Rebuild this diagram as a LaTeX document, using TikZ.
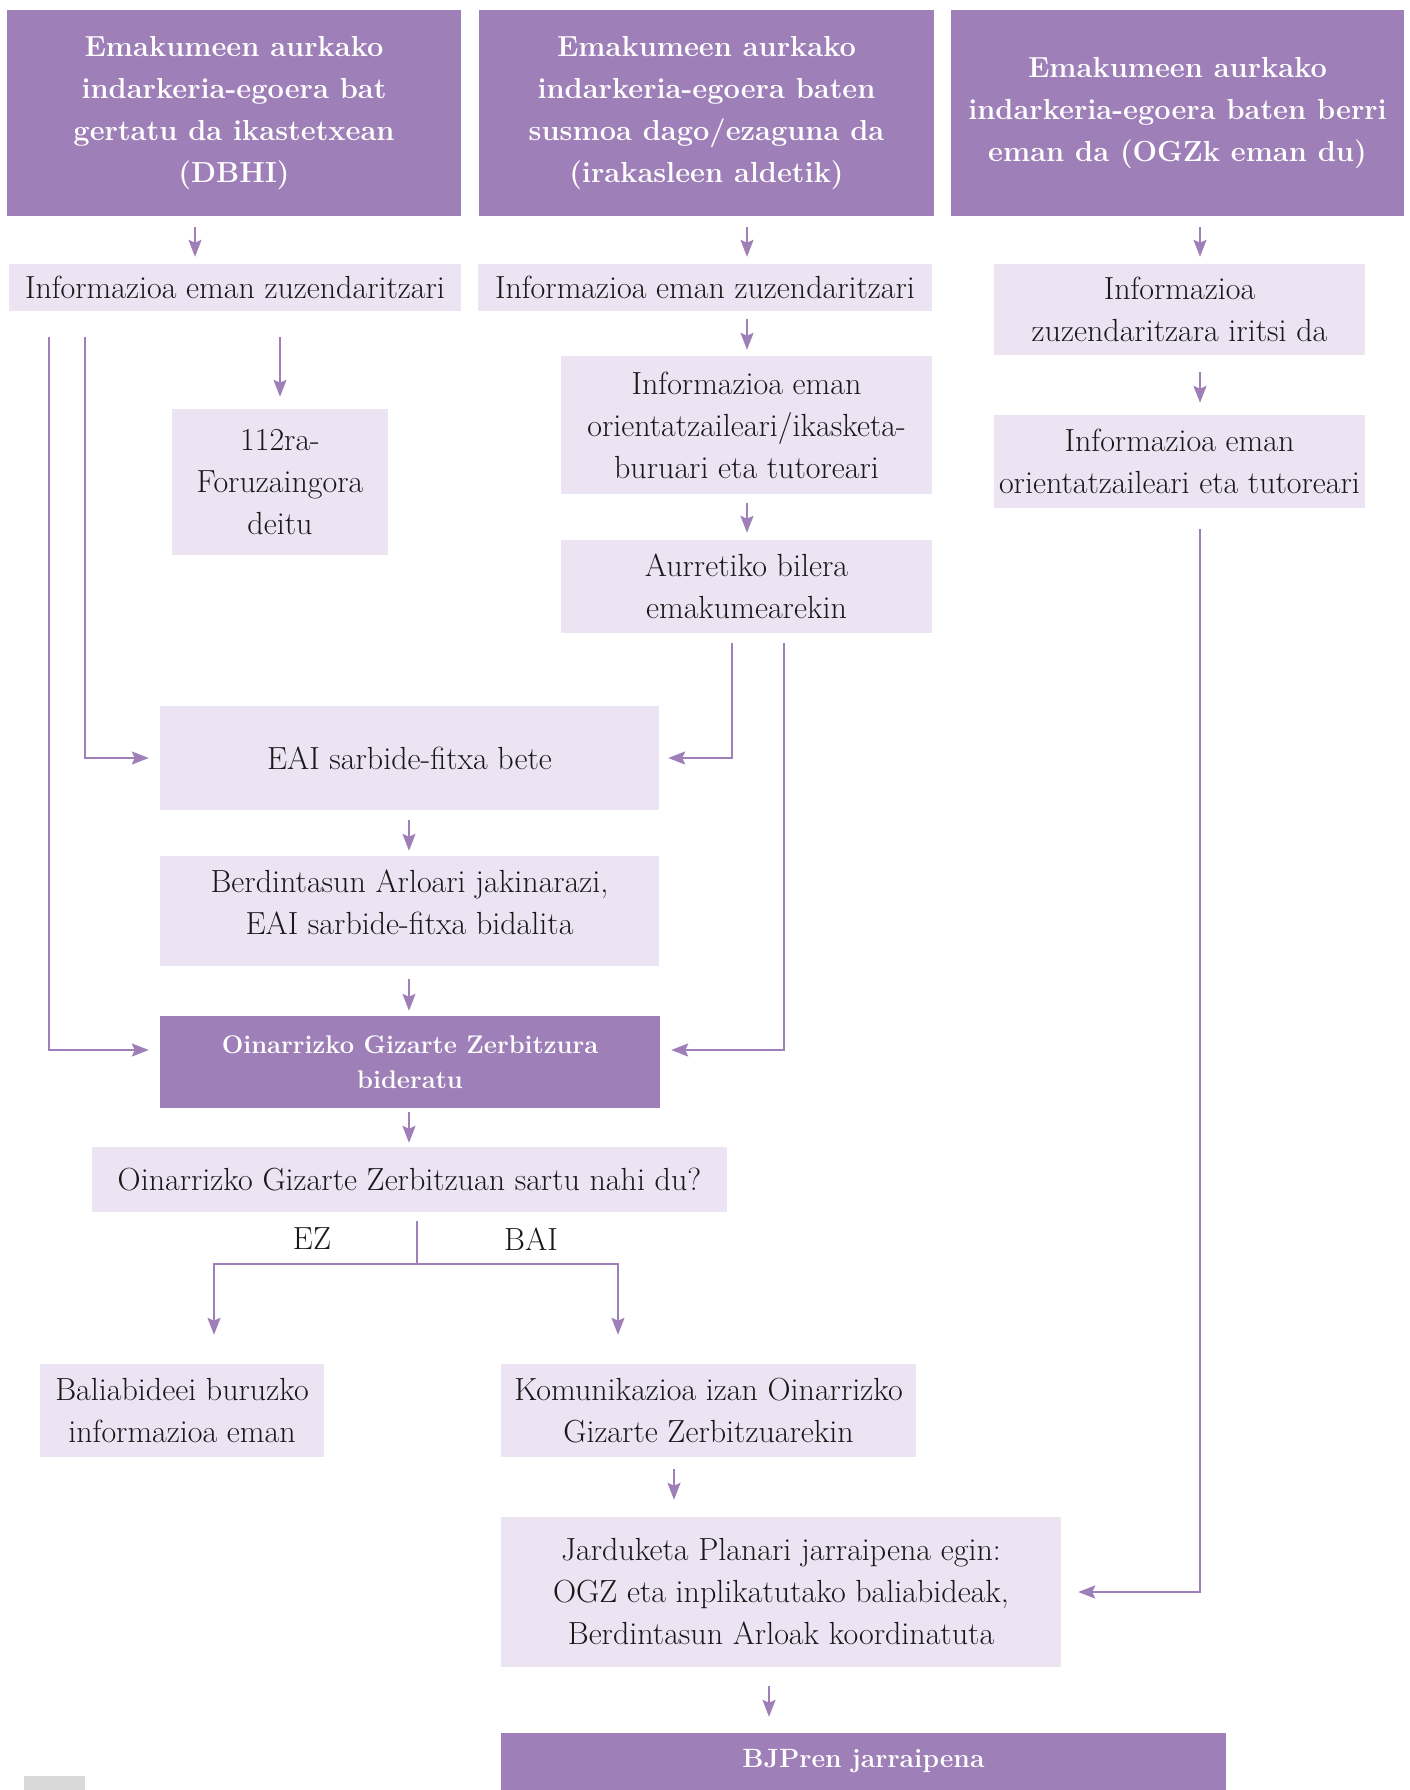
\documentclass[tikz,border=0pt]{standalone}
\usetikzlibrary{arrows.meta,calc}
\definecolor{hdr}{RGB}{158,127,184}
\definecolor{lite}{RGB}{236,228,243}
\definecolor{ink}{RGB}{25,25,25}
\definecolor{tab}{RGB}{217,217,217}
\begin{document}
\begin{tikzpicture}[x=1pt,y=-1pt,
  box/.style={fill=lite, inner sep=0pt, align=center, text=ink, font=\fontsize{32}{42}\selectfont},
  txt/.style={inner sep=0pt, align=center, text=ink, font=\fontsize{32}{42}\selectfont},
  hbox/.style={fill=hdr, inner sep=0pt, align=center, text=white, font=\fontsize{29}{42}\selectfont\bfseries},
  dbox/.style={fill=hdr, inner sep=0pt, align=center, text=white, font=\fontsize{25.5}{35}\selectfont\bfseries},
  lbl/.style={inner sep=0pt, text=ink, font=\fontsize{32}{42}\selectfont},
  arr/.style={draw=hdr, line width=2.2pt, -{Stealth[length=17pt,width=13pt,inset=3pt]}},
  ln/.style={draw=hdr, line width=2.2pt},
]
\useasboundingbox (0,0) rectangle (1409,1790);

% headers
\node[hbox, minimum width=454pt, minimum height=206pt] (hdr1) at (234,113) {Emakumeen aurkako\\indarkeria-egoera bat\\gertatu da ikastetxean\\(DBHI)};
\node[hbox, minimum width=455pt, minimum height=206pt] (hdr2) at (706.5,113) {Emakumeen aurkako\\indarkeria-egoera baten\\susmoa dago/ezaguna da\\(irakasleen aldetik)};
\node[hbox, minimum width=453pt, minimum height=206pt] (hdr3) at (1177.5,113) {Emakumeen aurkako\\indarkeria-egoera baten berri\\eman da (OGZk eman du)};

% light boxes
\node[box, minimum width=452pt, minimum height=47pt] (info1) at (235,287.5) {Informazioa eman zuzendaritzari};
\node[box, minimum width=454pt, minimum height=47pt] (info2) at (705,287.5) {Informazioa eman zuzendaritzari};
\node[box, minimum width=371pt, minimum height=91pt] (info3) at (1179.5,309.5) {Informazioa\\zuzendaritzara iritsi da};
\node[box, minimum width=371pt, minimum height=93pt] (box4) at (1179.5,461.5) {Informazioa eman\\orientatzaileari eta tutoreari};
\node[box, minimum width=216pt, minimum height=146pt] (b112) at (280,482) {112ra-\\Foruzaingora\\deitu};
\node[box, minimum width=371pt, minimum height=138pt] (orient) at (746.5,425) {Informazioa eman\\orientatzaileari/ikasketa-\\buruari eta tutoreari};
\node[box, minimum width=371pt, minimum height=93pt] (aur) at (746.5,586.5) {Aurretiko bilera\\emakumearekin};
\node[box, minimum width=499pt, minimum height=104pt] (eai) at (409.5,758) {EAI sarbide-fitxa bete};
\node[box, minimum width=499pt, minimum height=110pt] (berdin) at (409.5,911) {};
\node[txt] (berdintxt) at (409.5,902) {Berdintasun Arloari jakinarazi,\\EAI sarbide-fitxa bidalita};
\node[dbox, minimum width=500pt, minimum height=92pt] (oin) at (410,1062) {Oinarrizko Gizarte Zerbitzura\\bideratu};
\node[box, minimum width=635pt, minimum height=65pt] (q) at (409.5,1179.5) {Oinarrizko Gizarte Zerbitzuan sartu nahi du?};
\node[box, minimum width=284pt, minimum height=93pt] (bal) at (182,1410.5) {Baliabideei buruzko\\informazioa eman};
\node[box, minimum width=415pt, minimum height=93pt] (komu) at (708.5,1410.5) {Komunikazioa izan Oinarrizko\\Gizarte Zerbitzuarekin};
\node[box, minimum width=560pt, minimum height=150pt] (jard) at (781,1592) {Jarduketa Planari jarraipena egin:\\OGZ eta inplikatutako baliabideak,\\Berdintasun Arloak koordinatuta};
\node[dbox, minimum width=725pt, minimum height=57pt, font=\fontsize{26.5}{35}\selectfont\bfseries] (bjp) at (863.5,1761.5) {BJPren jarraipena};

\node[lbl] (ez) at (312,1239) {EZ};
\node[lbl] (bai) at (531,1239) {BAI};

% x positions of connectors
\coordinate (xa1) at (195,0);
\coordinate (xa2) at (747,0);
\coordinate (xa3) at (1200,0);
\coordinate (xl1) at (49,0);
\coordinate (xl2) at (85,0);
\coordinate (xc3) at (732,0);
\coordinate (xc4) at (784,0);
\coordinate (xe) at (409,0);
\coordinate (xez) at (214,0);
\coordinate (xbai) at (618,0);
\coordinate (xg1) at (674,0);
\coordinate (xg2) at (769,0);
\coordinate (split) at (417,1264);

% header -> info arrows
\draw[arr, shorten <=11pt, shorten >=7pt] (hdr1.south -| xa1) -- (info1.north -| xa1);
\draw[arr, shorten <=11pt, shorten >=7pt] (hdr2.south -| xa2) -- (info2.north -| xa2);
\draw[arr, shorten <=11pt, shorten >=7pt] (hdr3.south -| xa3) -- (info3.north -| xa3);

% left column
\draw[arr, shorten <=26pt, shorten >=12pt] (info1.south -| b112.north) -- (b112.north);
\draw[arr, shorten <=26pt, shorten >=11pt] (info1.south -| xl1) |- ([yshift=12pt]oin.west);
\draw[arr, shorten <=26pt, shorten >=11pt] (info1.south -| xl2) |- (eai.west);

% middle column
\draw[arr, shorten <=8pt, shorten >=6pt] (info2.south -| xa2) -- (orient.north -| xa2);
\draw[arr, shorten <=9pt, shorten >=7pt] (orient.south -| xa2) -- (aur.north -| xa2);
\draw[arr, shorten <=10pt, shorten >=9pt] (aur.south -| xc3) |- (eai.east);
\draw[arr, shorten <=10pt, shorten >=11pt] (aur.south -| xc4) |- ([yshift=12pt]oin.east);

% right column
\draw[arr, shorten <=17pt, shorten >=12pt] (info3.south -| xa3) -- (box4.north -| xa3);
\draw[arr, shorten <=21pt, shorten >=17pt] (box4.south -| xa3) |- (jard.east);

% centre chain
\draw[arr, shorten <=10pt, shorten >=5pt] (eai.south -| xe) -- (berdin.north -| xe);
\draw[arr, shorten <=13pt, shorten >=5pt] (berdin.south -| xe) -- (oin.north -| xe);
\draw[arr, shorten <=4pt, shorten >=4pt] (oin.south -| xe) -- (q.north -| xe);

% decision
\draw[ln, shorten <=9pt] (q.south -| split) -- (split);
\draw[arr, shorten >=29pt] (split) -| (bal.north -| xez);
\draw[arr, shorten >=29pt] (split) -| (komu.north -| xbai);

% lower chain
\draw[arr, shorten <=12pt, shorten >=17pt] (komu.south -| xg1) -- (jard.north -| xg1);
\draw[arr, shorten <=19pt, shorten >=16pt] (jard.south -| xg2) -- (bjp.north -| xg2);

% page tab
\fill[tab] (24,1776) rectangle (85,1790);
\end{tikzpicture}
\end{document}
